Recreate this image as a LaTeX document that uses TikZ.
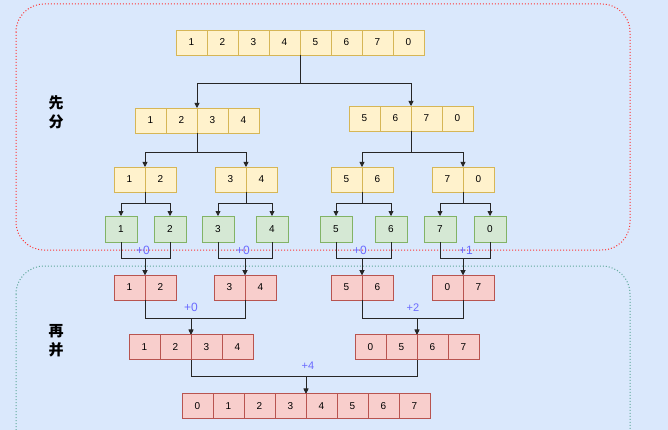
\documentclass[tikz,border=0pt]{standalone}
\usepackage{fontspec}
\setmainfont{Liberation Sans}
\newfontfamily\cjk{Noto Sans CJK SC}
\usetikzlibrary{arrows.meta}
\definecolor{bgblue}{HTML}{DAE8FC}
\definecolor{yfill}{HTML}{FFF2CC}\definecolor{ydraw}{HTML}{D6B656}
\definecolor{gfill}{HTML}{D5E8D4}\definecolor{gdraw}{HTML}{82B366}
\definecolor{pfill}{HTML}{F8CECC}\definecolor{pdraw}{HTML}{B85450}
\definecolor{redbox}{HTML}{FF3333}\definecolor{tealbox}{HTML}{5FA89B}
\definecolor{lblue}{HTML}{6A6AFF}
\tikzset{
  cellbase/.style={minimum width=31pt,minimum height=25pt,inner sep=0pt,outer sep=0pt,line width=0.8pt,font=\fontsize{10}{12}\selectfont},
  ycell/.style={cellbase,draw=ydraw,fill=yfill},
  pcell/.style={cellbase,draw=pdraw,fill=pfill},
  gbox/.style={cellbase,minimum width=32pt,minimum height=26pt,draw=gdraw,fill=gfill},
  arr/.style={draw=black!85,line width=0.8pt,-{Triangle[length=5pt,width=5pt]}},
  lbl/.style={text=lblue,inner sep=1pt,font=\fontsize{12}{14}\selectfont},
  lbls/.style={lbl,font=\fontsize{11}{13}\selectfont},
  cn/.style={font=\cjk\bfseries\fontsize{15}{19}\selectfont,align=center,inner sep=0pt},
  contbox/.style={line width=1pt,dash pattern=on 1pt off 2pt,rounded corners=28pt},
}
\newcommand\cellrow[5]{\foreach \v [count=\i] in {#5} {\node[#1] (#2\i) at ({#3+31*\i-15.5},#4) {\v};}}
\begin{document}
\begin{tikzpicture}[x=1pt,y=-1pt]
\useasboundingbox (0,0) rectangle (668,430);
\fill[bgblue] (0,0) rectangle (668,430);
\clip (0,0) rectangle (668,430);
% containers
\draw[contbox,draw=redbox] (16,4) rectangle (630,250);
\draw[contbox,draw=tealbox] (16,266) rectangle (630,470);
\node[cn] (xianfen) at (56,112) {先\\分};
\node[cn] (zaibing) at (56,341) {再\\并};
% arrays
\cellrow{ycell}{T}{176}{42.5}{1,2,3,4,5,6,7,0}
\cellrow{ycell}{A}{135}{120.5}{1,2,3,4}
\cellrow{ycell}{B}{349}{118.5}{5,6,7,0}
\cellrow{ycell}{C}{114}{179.5}{1,2}
\cellrow{ycell}{D}{215}{179.5}{3,4}
\cellrow{ycell}{E}{331}{179.5}{5,6}
\cellrow{ycell}{F}{432}{179.5}{7,0}
\node[gbox] (G1) at (121,229) {1};
\node[gbox] (G2) at (170,229) {2};
\node[gbox] (G3) at (218,229) {3};
\node[gbox] (G4) at (272,229) {4};
\node[gbox] (G5) at (336,229) {5};
\node[gbox] (G6) at (391,229) {6};
\node[gbox] (G7) at (440,229) {7};
\node[gbox] (G8) at (490,229) {0};
\cellrow{pcell}{P}{114}{287.5}{1,2}
\cellrow{pcell}{Q}{214}{287.5}{3,4}
\cellrow{pcell}{U}{331}{287.5}{5,6}
\cellrow{pcell}{V}{432}{287.5}{0,7}
\cellrow{pcell}{R}{129}{347}{1,2,3,4}
\cellrow{pcell}{S}{355}{347}{0,5,6,7}
\cellrow{pcell}{Z}{182}{406}{0,1,2,3,4,5,6,7}
% split arrows
\draw[arr] (T4.south east) -- ++(0,28) -| (A2.north east);
\draw[arr] (T4.south east) -- ++(0,28) -| (B2.north east);
\draw[arr] (A2.south east) -- ++(0,19) -| (C1.north east);
\draw[arr] (A2.south east) -- ++(0,19) -| (D1.north east);
\draw[arr] (B2.south east) -- ++(0,21) -| (E1.north east);
\draw[arr] (B2.south east) -- ++(0,21) -| (F1.north east);
\draw[arr] (C1.south east) -- ++(0,11) -| (G1.north);
\draw[arr] (C1.south east) -- ++(0,11) -| (G2.north);
\draw[arr] (D1.south east) -- ++(0,11) -| (G3.north);
\draw[arr] (D1.south east) -- ++(0,11) -| (G4.north);
\draw[arr] (E1.south east) -- ++(0,11) -| (G5.north);
\draw[arr] (E1.south east) -- ++(0,11) -| (G6.north);
\draw[arr] (F1.south east) -- ++(0,11) -| (G7.north);
\draw[arr] (F1.south east) -- ++(0,11) -| (G8.north);
% merge arrows
\draw[arr] (G1.south) -- ++(0,16) -| (P1.north east);
\draw[arr] (G2.south) -- ++(0,16) -| (P1.north east);
\draw[arr] (G3.south) -- ++(0,16) -| (Q1.north east);
\draw[arr] (G4.south) -- ++(0,16) -| (Q1.north east);
\draw[arr] (G5.south) -- ++(0,16) -| (U1.north east);
\draw[arr] (G6.south) -- ++(0,16) -| (U1.north east);
\draw[arr] (G7.south) -- ++(0,16) -| (V1.north east);
\draw[arr] (G8.south) -- ++(0,16) -| (V1.north east);
\draw[arr] (P1.south east) -- ++(0,18) -| (R2.north east);
\draw[arr] (Q1.south east) -- ++(0,18) -| (R2.north east);
\draw[arr] (U1.south east) -- ++(0,18) -| (S2.north east);
\draw[arr] (V1.south east) -- ++(0,18) -| (S2.north east);
\draw[arr] (R2.south east) -- ++(0,17) -| (Z4.north east);
\draw[arr] (S2.south east) -- ++(0,17) -| (Z4.north east);
% labels
\node[lbl] (k1) at (143,250) {+0};
\node[lbl] (k2) at (243,250) {+0};
\node[lbl] (k3) at (360,250) {+0};
\node[lbl] (k4) at (466,250) {+1};
\node[lbl] (k5) at (191,307) {+0};
\node[lbls] (k6) at (413,308) {+2};
\node[lbls] (k7) at (308,366) {+4};
\end{tikzpicture}
\end{document}
